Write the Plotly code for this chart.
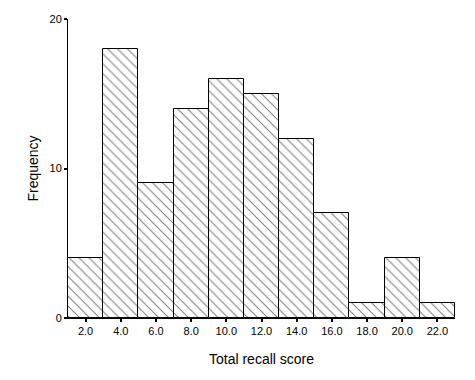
import plotly.graph_objects as go

bin_centers = [2, 4, 6, 8, 10, 12, 14, 16, 18, 20, 22]
frequencies = [4, 18, 9, 14, 16, 15, 12, 7, 1, 4, 1]
x_tick_vals = [2, 4, 6, 8, 10, 12, 14, 16, 18, 20, 22]
x_tick_text = ["2.0", "4.0", "6.0", "8.0", "10.0", "12.0", "14.0", "16.0", "18.0", "20.0", "22.0"]
y_tick_vals = [0, 10, 20]

fig = go.Figure(
    go.Bar(
        x=bin_centers,
        y=frequencies,
        width=2,
        marker=dict(
            color="white",
            line=dict(color="black", width=1),
            pattern=dict(shape="\\", fgcolor="black", bgcolor="white", size=7, solidity=0.15),
        ),
        showlegend=False,
    )
)

fig.update_layout(
    width=475,
    height=380,
    margin=dict(l=68, r=20, t=19, b=62),
    paper_bgcolor="white",
    plot_bgcolor="white",
    font=dict(family="Liberation Sans, Arial, sans-serif", color="black", size=11),
    bargap=0,
)

fig.update_xaxes(
    range=[1, 23],
    tickvals=x_tick_vals,
    ticktext=x_tick_text,
    ticks="outside",
    ticklen=3,
    tickwidth=2,
    tickcolor="black",
    showline=True,
    linecolor="black",
    linewidth=1,
    showgrid=False,
    zeroline=False,
    title=dict(text="Total recall score", font=dict(size=14), standoff=17),
)

fig.update_yaxes(
    range=[0, 20],
    tickvals=y_tick_vals,
    ticks="outside",
    ticklen=3,
    tickwidth=2,
    tickcolor="black",
    showline=True,
    linecolor="black",
    linewidth=1,
    showgrid=False,
    zeroline=False,
    title=dict(text="Frequency", font=dict(size=14), standoff=7),
)

fig.write_html("out.html")
